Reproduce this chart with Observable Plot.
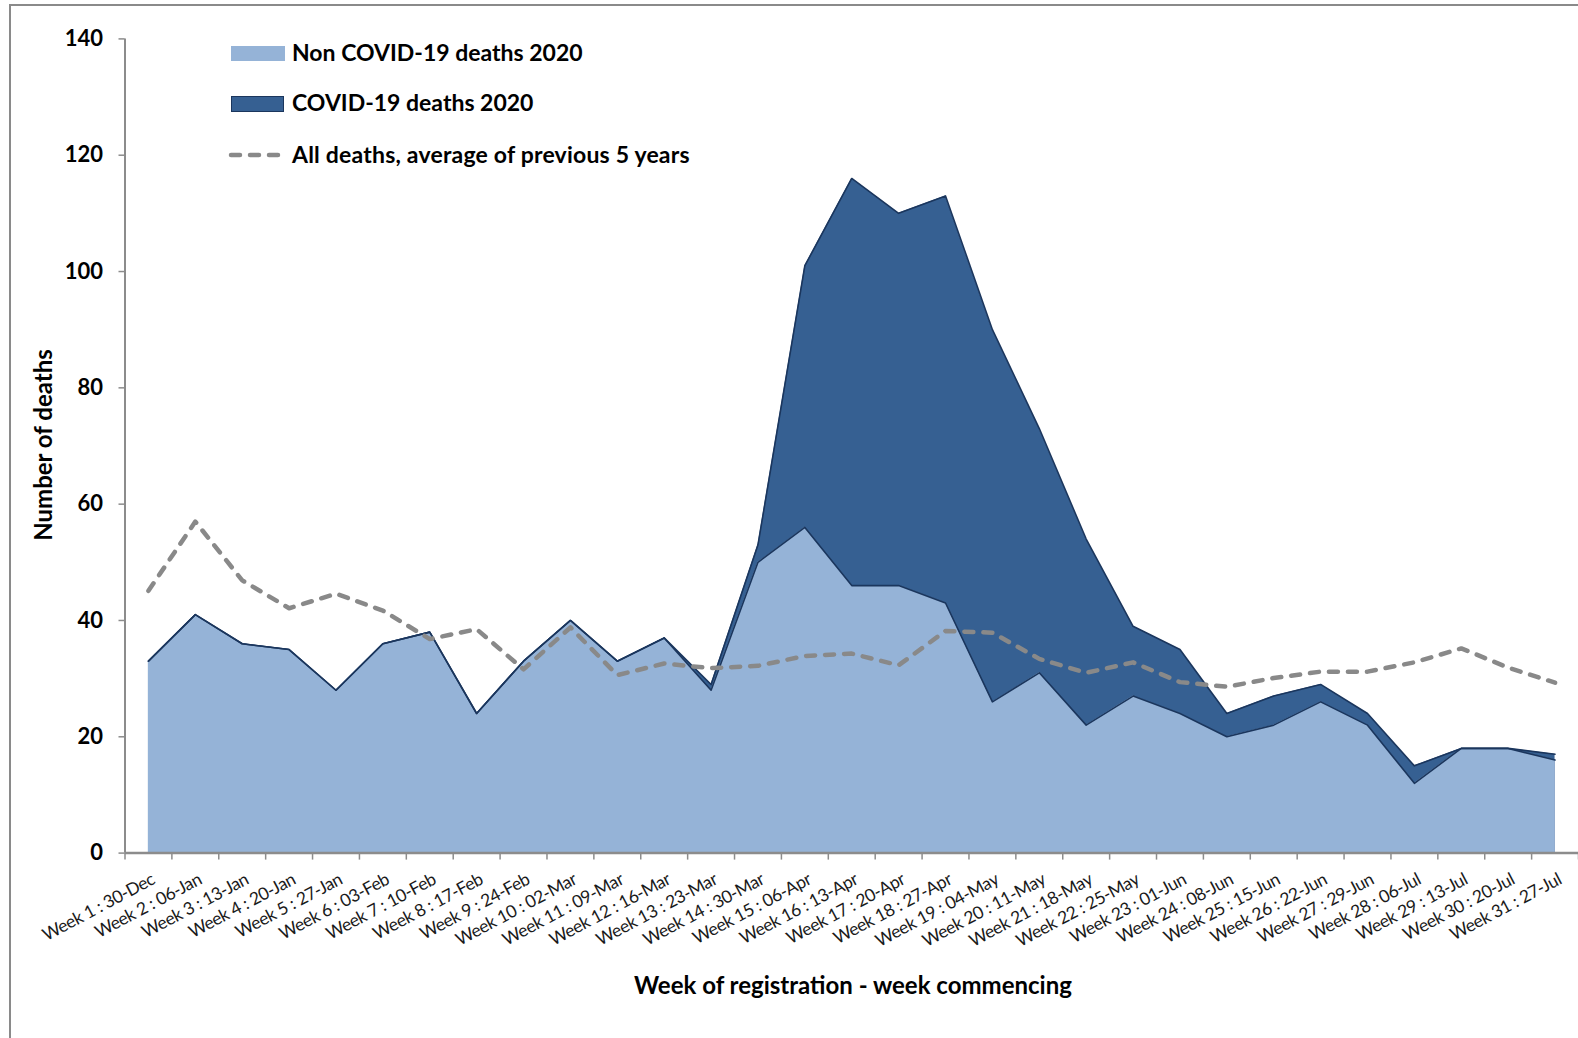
<!DOCTYPE html>
<html>
<head>
<meta charset="utf-8">
<script src="https://cdn.jsdelivr.net/npm/d3@7"></script>
<script src="https://cdn.jsdelivr.net/npm/@observablehq/plot@0.6"></script>
<style>
  html, body { margin: 0; padding: 0; background: #fff; overflow: hidden; }
  body { font-family: Lato, "Open Sans", sans-serif; color: #000; }
  #wrap { position: relative; width: 1578px; height: 1038px; }
  #frame { position: absolute; left: 9px; top: 4px; width: 1700px; height: 1200px;
           border-left: 2px solid #8a8a8a; border-top: 2px solid #8a8a8a; pointer-events: none; }
  #chart { position: absolute; left: 0; top: 0; }
  .lg { position: absolute; left: 0; top: 0; }
  .sw { position: absolute; left: 231px; width: 54px; height: 15px; }
  .lt { position: absolute; left: 292px; font-weight: 700; font-size: 23px; line-height: 1; white-space: nowrap; }
  #ytitle { position: absolute; left: 42px; top: 445px; transform: translate(-50%, -50%) rotate(-90deg);
            font-weight: 700; font-size: 24px; white-space: nowrap; }
  #xtitle { position: absolute; left: 853px; top: 984px; transform: translate(-50%, -50%);
            font-weight: 700; font-size: 24px; white-space: nowrap; }
  .xlab text { letter-spacing: -0.4px; }
</style>
</head>
<body>
<div id="wrap">
  <div id="chart"></div>
  <div id="frame"></div>
  <div class="sw" style="top:46px;background:#95B3D7;"></div>
  <div class="lt" style="top:41px;">Non COVID-19 deaths 2020</div>
  <div class="sw" style="top:96px;height:14px;background:#366092;border:1.5px solid #1B365D;width:51px;"></div>
  <div class="lt" style="top:91px;">COVID-19 deaths 2020</div>
  <svg class="lg" width="300" height="200" style="position:absolute;left:0;top:0;overflow:visible">
    <line x1="231" x2="285" y1="155" y2="155" stroke="#898989" stroke-width="4.5" stroke-dasharray="9,10" stroke-linecap="round"/>
  </svg>
  <div class="lt" style="top:143px;letter-spacing:0.2px;">All deaths, average of previous 5 years</div>
  <div id="ytitle">Number of deaths</div>
  <div id="xtitle">Week of registration - week commencing</div>
</div>
<script>
const weeks = [
  "Week 1 : 30-Dec", "Week 2 : 06-Jan", "Week 3 : 13-Jan", "Week 4 : 20-Jan", "Week 5 : 27-Jan",
  "Week 6 : 03-Feb", "Week 7 : 10-Feb", "Week 8 : 17-Feb", "Week 9 : 24-Feb", "Week 10 : 02-Mar",
  "Week 11 : 09-Mar", "Week 12 : 16-Mar", "Week 13 : 23-Mar", "Week 14 : 30-Mar", "Week 15 : 06-Apr",
  "Week 16 : 13-Apr", "Week 17 : 20-Apr", "Week 18 : 27-Apr", "Week 19 : 04-May", "Week 20 : 11-May",
  "Week 21 : 18-May", "Week 22 : 25-May", "Week 23 : 01-Jun", "Week 24 : 08-Jun", "Week 25 : 15-Jun",
  "Week 26 : 22-Jun", "Week 27 : 29-Jun", "Week 28 : 06-Jul", "Week 29 : 13-Jul", "Week 30 : 20-Jul",
  "Week 31 : 27-Jul"
];
const nonCovidDeaths = [33, 41, 36, 35, 28, 36, 38, 24, 33, 40, 33, 37, 28, 50, 56, 46, 46, 43, 26, 31, 22, 27, 24, 20, 22, 26, 22, 12, 18, 18, 16];
const covidDeaths    = [0, 0, 0, 0, 0, 0, 0, 0, 0, 0, 0, 0, 1, 3, 45, 70, 64, 70, 64, 42, 32, 12, 11, 4, 5, 3, 2, 3, 0, 0, 1];
const avgPrev5Years  = [45.1, 57.0, 46.9, 42.1, 44.6, 41.7, 36.8, 38.5, 31.6, 38.8, 30.6, 32.6, 31.8, 32.2, 33.9, 34.3, 32.3, 38.2, 37.9, 33.4, 31.0, 32.8, 29.4, 28.6, 30.1, 31.2, 31.2, 32.8, 35.2, 31.9, 29.3];
const yTicks = [0, 20, 40, 60, 80, 100, 120, 140];

const rows = weeks.map((w, i) => ({
  i, week: w,
  non: nonCovidDeaths[i],
  total: nonCovidDeaths[i] + covidDeaths[i],
  avg: avgPrev5Years[i]
}));
const idx = rows.map(d => d.i);
const boundaries = d3.range(-0.5, weeks.length, 1);

const chart = Plot.plot({
  width: 1578,
  height: 1038,
  marginLeft: 124.5,
  marginRight: 0,
  marginTop: 38.4,
  marginBottom: 185.4,
  style: { fontFamily: "Lato, 'Open Sans', sans-serif", background: "transparent", color: "#000", overflow: "visible" },
  x: { type: "linear", domain: [-0.5, weeks.length - 0.5], axis: null },
  y: { domain: [0, 140], axis: null },
  marks: [
    Plot.areaY(rows, { x: "i", y: "total", fill: "#366092" }),
    Plot.areaY(rows, { x: "i", y: "non", fill: "#95B3D7" }),
    Plot.lineY(rows, { x: "i", y: "total", stroke: "#1B365D", strokeWidth: 1.6 }),
    Plot.lineY(rows, { x: "i", y: "non", stroke: "#1B365D", strokeWidth: 1.6 }),
    Plot.lineY(rows, { x: "i", y: "avg", stroke: "#898989", strokeWidth: 4.5, strokeDasharray: "9,10", strokeLinecap: "round", strokeLinejoin: "round" }),
    Plot.ruleX([-0.5], { stroke: "#8c8c8c", strokeWidth: 2 }),
    Plot.ruleY([0], { stroke: "#8c8c8c", strokeWidth: 2.5 }),
    Plot.axisY({ ticks: yTicks, tickSize: 6, tickPadding: 16, fontSize: 22, fontWeight: "bold", stroke: "#8c8c8c", strokeWidth: 1.5, fill: "#000", label: null, tickFormat: d => String(d) }),
    Plot.axisX({ ticks: boundaries, tickSize: 7, tickFormat: () => "", stroke: "#8c8c8c", strokeWidth: 1.5, label: null }),
    Plot.text(idx, { x: d => d, frameAnchor: "bottom", text: d => weeks[d], rotate: -28, textAnchor: "end", lineAnchor: "middle", dx: 5, dy: 25, fontSize: 17.5, fill: "#1a1a1a", className: "xlab" })
  ]
});
document.getElementById("chart").appendChild(chart);
</script>
</body>
</html>
